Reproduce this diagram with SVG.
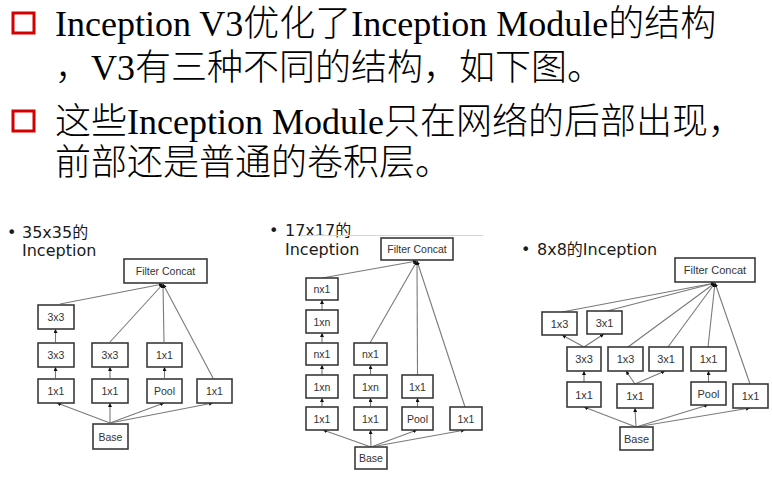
<svg xmlns="http://www.w3.org/2000/svg" width="772" height="477" viewBox="0 0 772 477">
<style>
.hd{font-family:"Liberation Serif","Noto Sans CJK SC",serif;font-size:36px;font-weight:300;fill:#000}
.sq{fill:none;stroke:#d40000;stroke-width:3}
.lb{font-family:"DejaVu Sans","Noto Sans CJK SC",sans-serif;font-size:16px;fill:#1a1a1a}
.bx rect{fill:#fff;stroke:#3a3a3a;stroke-width:1.6}
.bx text{font-family:"Liberation Sans",Arial,sans-serif;font-size:10.5px;fill:#333;text-anchor:middle;dominant-baseline:central}
.b3 text{font-size:11px}
.cn line{stroke:#7a7a7a;stroke-width:1.1;marker-end:url(#ah)}
</style>
<defs>
<marker id="ah" viewBox="0 0 6 6" refX="6" refY="3" markerWidth="4" markerHeight="4" markerUnits="userSpaceOnUse" orient="auto">
<path d="M0,0 L6,3 L0,6 Z" fill="#111"/>
</marker>
</defs>
<rect width="772" height="477" fill="#fff"/>

<g id="header">
<rect class="sq" x="13" y="13" width="21" height="20"/>
<text class="hd" x="55" y="36">Inception V3优化了Inception Module的结构</text>
<text class="hd" x="55" y="80">，V3有三种不同的结构，如下图。</text>
<rect class="sq" x="13" y="111" width="21" height="20"/>
<text class="hd" x="55" y="134">这些Inception Module只在网络的后部出现，</text>
<text class="hd" x="55" y="175">前部还是普通的卷积层。</text>
</g>

<g id="labels">
<text class="lb" x="7" y="238">•</text>
<text class="lb" x="22" y="238">35x35的</text>
<text class="lb" x="22" y="256">Inception</text>
<text class="lb" x="269" y="236">•</text>
<text class="lb" x="285" y="236">17x17的</text>
<text class="lb" x="285" y="255">Inception</text>
<text class="lb" x="521" y="255">•</text>
<text class="lb" x="537" y="255">8x8的Inception</text>
<line x1="300" y1="235.5" x2="483" y2="235.5" stroke="#d6d6d6" stroke-width="1"/>
</g>

<g id="connectors" class="cn">
<!-- diagram 1 -->
<line x1="60" y1="304" x2="163" y2="284"/>
<line x1="110" y1="342" x2="163" y2="284"/>
<line x1="164" y1="342" x2="163" y2="284"/>
<line x1="213" y1="378" x2="163" y2="284"/>
<line x1="55.5" y1="378" x2="55.5" y2="367"/>
<line x1="55.5" y1="342" x2="55.5" y2="329"/>
<line x1="110" y1="378" x2="110" y2="367"/>
<line x1="164.5" y1="378" x2="164.5" y2="367"/>
<line x1="110" y1="423" x2="57" y2="403"/>
<line x1="110" y1="423" x2="110" y2="403"/>
<line x1="110" y1="423" x2="164" y2="403"/>
<line x1="110" y1="423" x2="213" y2="403"/>
<!-- diagram 2 -->
<line x1="322" y1="278" x2="417" y2="261"/>
<line x1="370" y1="343" x2="417" y2="261"/>
<line x1="417.5" y1="375" x2="417" y2="261"/>
<line x1="465" y1="407" x2="417" y2="261"/>
<line x1="322" y1="310" x2="322" y2="300"/>
<line x1="322" y1="343" x2="322" y2="333"/>
<line x1="322" y1="375" x2="322" y2="365"/>
<line x1="322" y1="407" x2="322" y2="398"/>
<line x1="370.5" y1="375" x2="370.5" y2="365"/>
<line x1="370.5" y1="407" x2="370.5" y2="398"/>
<line x1="417.5" y1="407" x2="417.5" y2="398"/>
<line x1="371" y1="447" x2="323" y2="430"/>
<line x1="371" y1="447" x2="370.5" y2="430"/>
<line x1="371" y1="447" x2="417" y2="430"/>
<line x1="371" y1="447" x2="465" y2="430"/>
<!-- diagram 3 -->
<line x1="562" y1="312" x2="715" y2="283"/>
<line x1="607" y1="311" x2="715" y2="283"/>
<line x1="628" y1="347" x2="715" y2="283"/>
<line x1="668" y1="347" x2="715" y2="283"/>
<line x1="708" y1="347" x2="715" y2="283"/>
<line x1="750" y1="384" x2="715" y2="283"/>
<line x1="584" y1="347" x2="562" y2="335"/>
<line x1="584" y1="347" x2="604" y2="334"/>
<line x1="584" y1="382" x2="584" y2="371"/>
<line x1="635" y1="384" x2="626" y2="371"/>
<line x1="635" y1="384" x2="665" y2="371"/>
<line x1="708.5" y1="382" x2="708.5" y2="371"/>
<line x1="636" y1="427" x2="584" y2="407"/>
<line x1="636" y1="427" x2="635" y2="408"/>
<line x1="636" y1="427" x2="708" y2="405"/>
<line x1="636" y1="427" x2="750" y2="408"/>
</g>

<!-- diagram 1 nodes -->
<g id="d1-concat" class="bx"><rect x="124" y="259" width="83" height="24"/><text x="165.5" y="271">Filter Concat</text></g>
<g id="d1-c1-3x3b" class="bx"><rect x="38" y="305" width="36" height="24"/><text x="56" y="317">3x3</text></g>
<g id="d1-c1-3x3a" class="bx"><rect x="38" y="343" width="36" height="24"/><text x="56" y="355">3x3</text></g>
<g id="d1-c1-1x1" class="bx"><rect x="38" y="379" width="36" height="24"/><text x="56" y="391">1x1</text></g>
<g id="d1-c2-3x3" class="bx"><rect x="92" y="343" width="36" height="24"/><text x="110" y="355">3x3</text></g>
<g id="d1-c2-1x1" class="bx"><rect x="92" y="379" width="36" height="24"/><text x="110" y="391">1x1</text></g>
<g id="d1-c3-1x1" class="bx"><rect x="147" y="343" width="35" height="24"/><text x="164.5" y="355">1x1</text></g>
<g id="d1-c3-pool" class="bx"><rect x="147" y="379" width="35" height="24"/><text x="164.5" y="391">Pool</text></g>
<g id="d1-c4-1x1" class="bx"><rect x="197" y="379" width="35" height="24"/><text x="214.5" y="391">1x1</text></g>
<g id="d1-base" class="bx"><rect x="93" y="424" width="35" height="25"/><text x="110.5" y="436.5">Base</text></g>

<!-- diagram 2 nodes -->
<g id="d2-concat" class="bx"><rect x="381" y="238" width="72" height="22"/><text x="417" y="249">Filter Concat</text></g>
<g id="d2-c1-r1" class="bx"><rect x="306" y="278" width="32" height="22"/><text x="322" y="289">nx1</text></g>
<g id="d2-c1-r2" class="bx"><rect x="306" y="310" width="32" height="23"/><text x="322" y="321.5">1xn</text></g>
<g id="d2-c1-r3" class="bx"><rect x="306" y="343" width="32" height="22"/><text x="322" y="354">nx1</text></g>
<g id="d2-c1-r4" class="bx"><rect x="306" y="375" width="32" height="23"/><text x="322" y="386.5">1xn</text></g>
<g id="d2-c1-r5" class="bx"><rect x="306" y="407" width="32" height="23"/><text x="322" y="418.5">1x1</text></g>
<g id="d2-c2-r3" class="bx"><rect x="354" y="343" width="33" height="22"/><text x="370.5" y="354">nx1</text></g>
<g id="d2-c2-r4" class="bx"><rect x="354" y="375" width="33" height="23"/><text x="370.5" y="386.5">1xn</text></g>
<g id="d2-c2-r5" class="bx"><rect x="354" y="407" width="33" height="23"/><text x="370.5" y="418.5">1x1</text></g>
<g id="d2-c3-1x1" class="bx"><rect x="402" y="375" width="31" height="23"/><text x="417.5" y="386.5">1x1</text></g>
<g id="d2-c3-pool" class="bx"><rect x="402" y="407" width="31" height="23"/><text x="417.5" y="418.5">Pool</text></g>
<g id="d2-c4-1x1" class="bx"><rect x="450" y="407" width="32" height="23"/><text x="466" y="418.5">1x1</text></g>
<g id="d2-base" class="bx"><rect x="355" y="447" width="32" height="22"/><text x="371" y="458">Base</text></g>

<!-- diagram 3 nodes -->
<g id="d3-concat" class="bx b3"><rect x="675" y="258" width="80" height="24"/><text x="715" y="270">Filter Concat</text></g>
<g id="d3-r1-1x3" class="bx b3"><rect x="542" y="312" width="35" height="23"/><text x="559.5" y="323.5">1x3</text></g>
<g id="d3-r1-3x1" class="bx b3"><rect x="587" y="311" width="35" height="23"/><text x="604.5" y="322.5">3x1</text></g>
<g id="d3-r2-3x3" class="bx b3"><rect x="567" y="347" width="34" height="24"/><text x="584" y="359">3x3</text></g>
<g id="d3-r2-1x3" class="bx b3"><rect x="608" y="347" width="35" height="24"/><text x="625.5" y="359">1x3</text></g>
<g id="d3-r2-3x1" class="bx b3"><rect x="649" y="347" width="34" height="24"/><text x="666" y="359">3x1</text></g>
<g id="d3-r2-1x1" class="bx b3"><rect x="691" y="347" width="35" height="24"/><text x="708.5" y="359">1x1</text></g>
<g id="d3-r3-1x1a" class="bx b3"><rect x="567" y="382" width="34" height="25"/><text x="584" y="394.5">1x1</text></g>
<g id="d3-r3-1x1b" class="bx b3"><rect x="617" y="384" width="36" height="24"/><text x="635" y="396">1x1</text></g>
<g id="d3-r3-pool" class="bx b3"><rect x="691" y="382" width="35" height="23"/><text x="708.5" y="393.5">Pool</text></g>
<g id="d3-r3-1x1c" class="bx b3"><rect x="733" y="384" width="35" height="24"/><text x="750.5" y="396">1x1</text></g>
<g id="d3-base" class="bx b3"><rect x="620" y="427" width="33" height="23"/><text x="636.5" y="438.5">Base</text></g>
</svg>
